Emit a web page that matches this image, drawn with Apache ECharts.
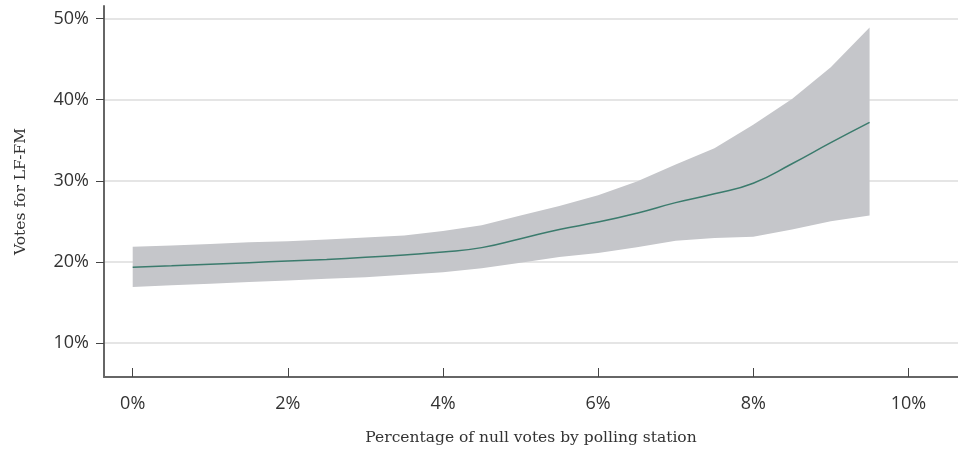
<!DOCTYPE html>
<html><head><meta charset="utf-8">
<script src="https://cdn.jsdelivr.net/npm/echarts@6/dist/echarts.min.js"></script>
<style>html,body{margin:0;padding:0;background:#fff}#c{width:958px;height:452px}</style>
</head><body><div id="c"></div>
<script>
// Percentage of null votes (x, in %)
const nullVotes = [0,0.5,1,1.5,2,2.5,3,3.5,4,4.5,5,5.5,6,6.5,7,7.5,8,8.5,9,9.5];
// Fitted share of votes for LF-FM (%)
const fitted = [19.33,19.5,19.7,19.9,20.1,20.3,20.55,20.85,21.2,21.75,22.85,24.0,24.9,26.0,27.3,28.4,29.7,32.1,34.7,37.2];
// Upper bound of the confidence band (%)
const upper = [21.85,22.0,22.2,22.4,22.55,22.75,23.0,23.25,23.8,24.5,25.7,26.9,28.2,29.9,32.0,34.0,36.9,40.1,44.0,48.9];
// Lower bound of the confidence band (%)
const lower = [16.9,17.1,17.3,17.5,17.7,17.9,18.1,18.4,18.7,19.2,19.9,20.6,21.1,21.8,22.6,22.95,23.1,24.0,25.0,25.7];
// Tick labels
const xTicks = [0,2,4,6,8,10];
const yTicks = [10,20,30,40,50];

const chart = echarts.init(document.getElementById('c'), null, {renderer:'canvas'});
const labelFont = {fontFamily:'Open Sans', fontSize:18, color:'#333'};
const nameFont = {fontFamily:'DejaVu Serif', fontSize:15.5, color:'#333'};
chart.setOption({
  animation:false,
  backgroundColor:'#fff',
  grid:{left:104,right:0,top:6,bottom:75,containLabel:false},
  xAxis:{
    type:'value', min:-0.37, max:10.64,
    name:'Percentage of null votes by polling station',
    nameLocation:'middle', nameGap:53, nameTextStyle:nameFont,
    axisLine:{show:true,onZero:false,lineStyle:{color:'#666',width:2}},
    axisTick:{show:true,inside:true,length:9,customValues:xTicks,lineStyle:{color:'#444',width:1}},
    axisLabel:Object.assign({customValues:xTicks,margin:18,formatter:v=>v+'%'},labelFont),
    splitLine:{show:false}
  },
  yAxis:{
    type:'value', min:5.79, max:51.56,
    name:'Votes for LF-FM',
    nameLocation:'middle', nameGap:75, nameRotate:90, nameTextStyle:nameFont,
    axisLine:{show:true,onZero:false,lineStyle:{color:'#666',width:2}},
    axisTick:{show:true,inside:false,length:8,customValues:yTicks,lineStyle:{color:'#444',width:1}},
    axisLabel:Object.assign({customValues:yTicks,margin:15,formatter:v=>v+'%'},labelFont),
    splitLine:{show:true,lineStyle:{color:'#dcdcdc',width:1.5}}
  },
  series:[
    {
      type:'custom', z:2, silent:true,
      data:[[0,20]],
      renderItem:function(params, api){
        const pts = [];
        for (let i=0;i<nullVotes.length;i++) pts.push(api.coord([nullVotes[i], upper[i]]));
        for (let i=nullVotes.length-1;i>=0;i--) pts.push(api.coord([nullVotes[i], lower[i]]));
        return {type:'polygon', shape:{points:pts}, style:{fill:'#c5c6ca', stroke:null}};
      }
    },
    {
      type:'line', z:3, smooth:true, symbol:'none', silent:true,
      data:nullVotes.map((x,i)=>[x,fitted[i]]),
      lineStyle:{color:'#3b7b6d',width:1.5}
    }
  ]
});
</script></body></html>
